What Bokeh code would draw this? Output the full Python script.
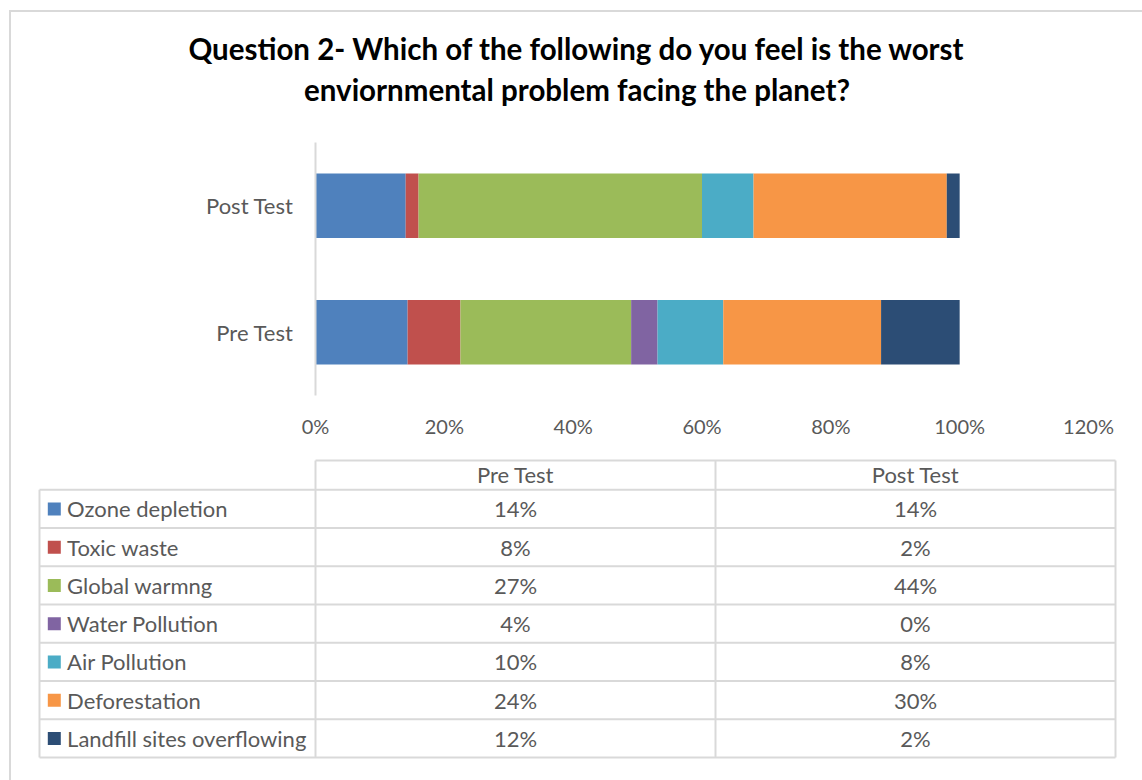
from bokeh.plotting import figure
from bokeh.models import ColumnDataSource, Range1d, FactorRange, FixedTicker, PrintfTickFormatter
from bokeh.layouts import column
from bokeh.core.properties import value
from bokeh.embed import file_html
from bokeh.resources import INLINE

# ---- data ----
title_lines = ["Question 2- Which of the following do you feel is the worst",
               "enviornmental problem facing the planet?"]
categories = ["Ozone depletion", "Toxic waste", "Global warmng", "Water Pollution",
              "Air Pollution", "Deforestation", "Landfill sites overflowing"]
tests = ["Pre Test", "Post Test"]
pre_values = [14.3, 8.2, 26.5, 4.1, 10.2, 24.5, 12.2]
post_values = [14.0, 2.0, 44.0, 0.0, 8.0, 30.0, 2.0]
pre_labels = ["14%", "8%", "27%", "4%", "10%", "24%", "12%"]
post_labels = ["14%", "2%", "44%", "0%", "8%", "30%", "2%"]
x_ticks = [0, 20, 40, 60, 80, 100, 120]

# ---- style ----
colors = ["#4F81BD", "#C0504D", "#9BBB59", "#8064A2", "#4BACC6", "#F79646", "#2C4D75"]
FONT = "Lato"
TXT = "#595959"
GRID = "#d9d9d9"
W = 1131

# ---- title figure ----
pt = figure(width=W, height=125, x_range=Range1d(0, 1), y_range=Range1d(0, 1),
            x_axis_type=None, y_axis_type=None, toolbar_location=None,
            output_backend="svg", min_border=0, outline_line_color=None)
pt.frame_align = False
pt.grid.visible = False
pt.text(x=[0.5, 0.5], y=[0.715, 0.385], text=title_lines,
        text_font=value(FONT), text_font_style="bold", text_font_size="29.5px",
        text_color="#000000", text_align="center", text_baseline="middle")

# ---- chart figure ----
src = ColumnDataSource(dict(test=tests, **{c: [a, b] for c, a, b in zip(categories, pre_values, post_values)}))
p = figure(width=W, height=318, y_range=FactorRange(*tests), x_range=Range1d(0, 120),
           toolbar_location=None, output_backend="svg",
           min_border_left=304, min_border_right=54, min_border_top=5, min_border_bottom=60,
           outline_line_color=None)
p.frame_align = False
p.hbar_stack(categories, y="test", height=0.51, color=colors, line_color=None, source=src)
p.grid.visible = False
p.xaxis.ticker = FixedTicker(ticks=x_ticks)
p.xaxis.formatter = PrintfTickFormatter(format="%d%%")
p.xaxis.axis_line_color = None
p.xaxis.major_tick_line_color = None
p.xaxis.minor_tick_line_color = None
p.xaxis.major_tick_out = 0
p.xaxis.major_label_standoff = 18
p.yaxis.axis_line_color = GRID
p.yaxis.axis_line_width = 2
p.yaxis.major_tick_line_color = None
p.yaxis.minor_tick_line_color = None
p.yaxis.major_tick_out = 0
p.yaxis.major_label_standoff = 22
p.xaxis.major_label_text_font_size = "20px"
p.yaxis.major_label_text_font_size = "22px"
for ax in (p.xaxis, p.yaxis):
    ax.major_label_text_font = FONT
    ax.major_label_text_color = TXT

# ---- data table figure ----
n = len(categories)
label_w = 0.69
head_h = 0.767
px, py = 0.0075, 0.078
pd_ = figure(width=W, height=325, x_range=Range1d(-label_w - px, 2 + px),
             y_range=Range1d(-py, n + head_h + py),
             x_axis_type=None, y_axis_type=None, toolbar_location=None,
             output_backend="svg", min_border_left=25, min_border_right=24,
             min_border_top=2, min_border_bottom=20, outline_line_color=None)
pd_.frame_align = False
pd_.grid.visible = False
# grid lines
hx0 = [-label_w] * (n + 1) + [0]
hx1 = [2] * (n + 1) + [2]
hy = list(range(n + 1)) + [n + head_h]
pd_.segment(x0=hx0, y0=hy, x1=hx1, y1=hy, line_color=GRID, line_width=2)
vx = [-label_w, 0, 1, 2]
vy1 = [n, n + head_h, n + head_h, n + head_h]
pd_.segment(x0=vx, y0=[0] * 4, x1=vx, y1=vy1, line_color=GRID, line_width=2)

rows_y = [n - i - 0.5 for i in range(n)]
tsrc = ColumnDataSource(dict(cat=categories, y=rows_y, pre=pre_labels, post=post_labels,
                             color=colors))
common = dict(text_font=value(FONT), text_font_size="22px", text_color=TXT, text_baseline="middle")
pd_.text(x=[0.5, 1.5], y=[n + head_h / 2 + 0.03] * 2, text=tests, text_align="center", **common)
pd_.text(x=0.5, y="y", text="pre", source=tsrc, text_align="center", **common)
pd_.text(x=1.5, y="y", text="post", source=tsrc, text_align="center", **common)
pd_.scatter(x=-label_w + 0.037, y="y", marker="square", size=13, fill_color="color",
            line_color=None, source=tsrc)
pd_.text(x=-label_w + 0.069, y="y", text="cat", source=tsrc, text_align="left", **common)

layout = column(pt, p, pd_, spacing=0,
                styles={"border-top": "2px solid #d9d9d9", "border-left": "2px solid #d9d9d9",
                        "margin-top": "10px", "margin-left": "9px"})

open("out.html", "w").write(file_html(layout, INLINE))
